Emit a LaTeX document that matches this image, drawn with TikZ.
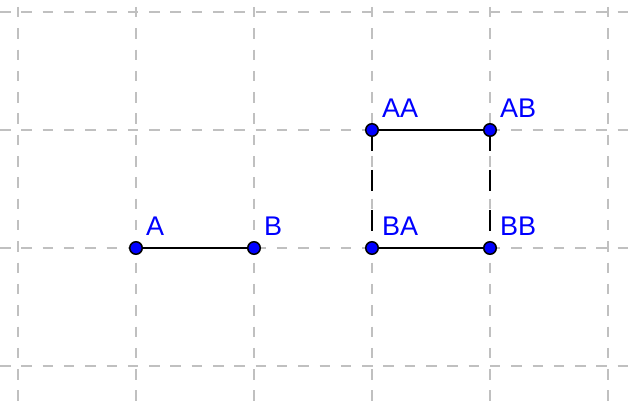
\documentclass[tikz,border=0pt]{standalone}
\usepackage{fontspec}
\setmainfont{Liberation Sans}
\begin{document}
\begin{tikzpicture}[x=1pt,y=-1pt,
  gridline/.style={draw={rgb,255:red,192;green,192;blue,192},line width=1.8pt},
  hgrid/.style={gridline,dash pattern=on 10.5pt off 10.8pt},
  vgrid/.style={gridline,dash pattern=on 10.5pt off 10.8pt,dash phase=14.3pt},
  seg/.style={draw=black,line width=2pt},
  dseg/.style={seg,dash pattern=on 21pt off 19pt},
  pt/.style={circle,fill={rgb,255:red,0;green,0;blue,255},draw=black,line width=1.5pt,minimum size=12.5pt,inner sep=0pt},
  lbl/.style={text={rgb,255:red,0;green,0;blue,255},font=\fontsize{27}{27}\selectfont,inner sep=0pt,anchor=base west}
]
\useasboundingbox (0,0) rectangle (630,401);
\fill[white] (0,0) rectangle (630,401);
% grid
\foreach \y in {12,130,248,366} \draw[hgrid] (0,\y) -- (630,\y);
\foreach \x in {18,136,254,372,490,608} \draw[vgrid] (\x,0) -- (\x,401);
% coordinates
\coordinate (a) at (136,248);
\coordinate (b) at (254,248);
\coordinate (aa) at (372,130);
\coordinate (ab) at (490,130);
\coordinate (ba) at (372,248);
\coordinate (bb) at (490,248);
% segments
\draw[seg] (a) -- (b);
\draw[seg] (aa) -- (ab);
\draw[seg] (ba) -- (bb);
\draw[dseg] (aa) -- (ba);
\draw[dseg] (ab) -- (bb);
% points
\node[pt] (A) at (a) {};
\node[pt] (B) at (b) {};
\node[pt] (AA) at (aa) {};
\node[pt] (AB) at (ab) {};
\node[pt] (BA) at (ba) {};
\node[pt] (BB) at (bb) {};
% labels
\node[lbl] (lA) at (146,236) {A};
\node[lbl] (lB) at (264,236) {B};
\node[lbl] (lAA) at (382,118) {AA};
\node[lbl] (lAB) at (500,118) {AB};
\node[lbl] (lBA) at (382,236) {BA};
\node[lbl] (lBB) at (500,236) {BB};
\end{tikzpicture}
\end{document}
